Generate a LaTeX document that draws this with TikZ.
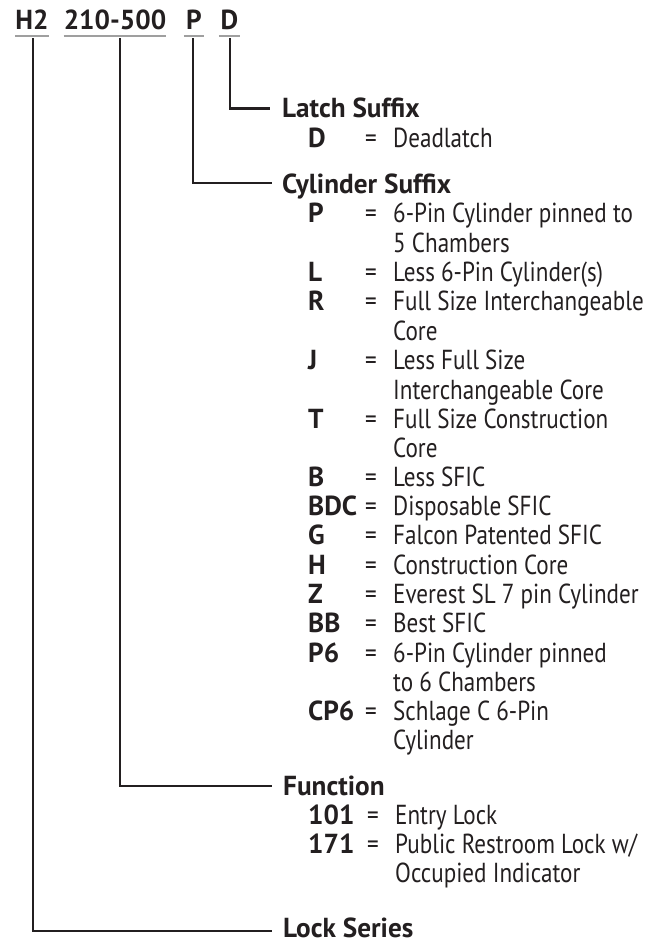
\documentclass[tikz,border=0pt]{standalone}
\usepackage{fontspec}
\setmainfont{PT Sans}[FakeStretch=0.84]
\newfontfamily\headfont{PT Sans}[FakeStretch=0.99]
\usepackage{xcolor}
\usepackage{tikz}
\usetikzlibrary{calc}
\definecolor{ink}{HTML}{231F20}

\tikzset{
    txt/.style={anchor=base west, inner sep=0pt, text=ink, font=\fontsize{27.5}{33}\selectfont},
    head/.style={txt, font=\fontsize{27.5}{33}\headfont\bfseries},
    code/.style={head},
    toplabel/.style={head, anchor=base, inner ysep=0pt, text depth=0pt},
    leader/.style={line width=2.4pt, ink},
    uline/.style={line width=1.6pt, gray!75}
}

\begin{document}
\begin{tikzpicture}[x=1pt, y=-1pt]
    \useasboundingbox (0,0) rectangle (670,943);

    % Part number across the top
    \node[toplabel] (top-H2) at (32,29) {H2};
    \node[toplabel] (top-fn) at (115,29) {210-500};
    \node[toplabel, minimum width=20pt] (top-P) at (194,29) {P};
    \node[toplabel, minimum width=21pt] (top-D) at (229.5,29) {D};
    \foreach \n in {H2, fn, P, D}
        \draw[uline] ($(top-\n.south west)+(0,7)$) -- ($(top-\n.south east)+(0,7)$);

    % Drop points of the leaders
    \coordinate (drop-H2) at (33,38);
    \coordinate (drop-fn) at (120,38);
    \coordinate (drop-P) at (193,38);
    \coordinate (drop-D) at (230,38);

    % Latch suffix
    \node[head] (latch) at (282,117) {Latch Suffix};
    \node[code] (code-D) at (308,147) {D};
    \node[txt] (eq-D) at (365,147) {=};
    \node[txt] (desc-D) at (393,147) {Deadlatch};

    % Cylinder suffix
    \node[head] (cyl) at (282,193) {Cylinder Suffix};
    \foreach \k/\y/\t in {P/222/{6-Pin Cylinder pinned to}, L/281/{Less 6-Pin Cylinder(s)},
        R/310/{Full Size Interchangeable}, J/369/{Less Full Size}, T/428/{Full Size Construction},
        B/486/{Less SFIC}, BDC/515/{Disposable SFIC}, G/544/{Falcon Patented SFIC},
        H/574/{Construction Core}, Z/603/{Everest SL 7 pin Cylinder}, BB/632/{Best SFIC},
        P6/662/{6-Pin Cylinder pinned}, CP6/720/{Schlage C 6-Pin}} {
        \node[code] (code-\k) at (308,\y) {\k};
        \node[txt] (eq-\k) at (365,\y) {=};
        \node[txt] (desc-\k) at (393,\y) {\t};
    }
    \node[txt] (more-P) at (393,252) {5 Chambers};
    \node[txt] (more-R) at (393,340) {Core};
    \node[txt] (more-J) at (393,399) {Interchangeable Core};
    \node[txt] (more-T) at (393,457) {Core};
    \node[txt] (more-P6) at (393,691) {to 6 Chambers};
    \node[txt] (more-CP6) at (393,749) {Cylinder};

    % Function
    \node[head] (func) at (283,795) {Function};
    \node[code] (code-101) at (308,824) {101};
    \node[txt] (eq-101) at (367,824) {=};
    \node[txt] (desc-101) at (395,824) {Entry Lock};
    \node[code] (code-171) at (308,853) {171};
    \node[txt] (eq-171) at (367,853) {=};
    \node[txt] (desc-171) at (395,853) {Public Restroom Lock w/};
    \node[txt] (more-171) at (395,882) {Occupied Indicator};

    % Lock series
    \node[head] (series) at (283,937) {Lock Series};

    % Leaders
    \coordinate (latch-in) at ($(latch.base west)+(-12,-8.5)$);
    \coordinate (cyl-in) at ($(cyl.base west)+(-10,-10)$);
    \coordinate (func-in) at ($(func.base west)+(-11,-9)$);
    \coordinate (series-in) at ($(series.base west)+(-11,-6)$);
    \draw[leader] (drop-D) |- (latch-in);
    \draw[leader] (drop-P) |- (cyl-in);
    \draw[leader] (drop-fn) |- (func-in);
    \draw[leader] (drop-H2) |- (series-in);
\end{tikzpicture}
\end{document}
